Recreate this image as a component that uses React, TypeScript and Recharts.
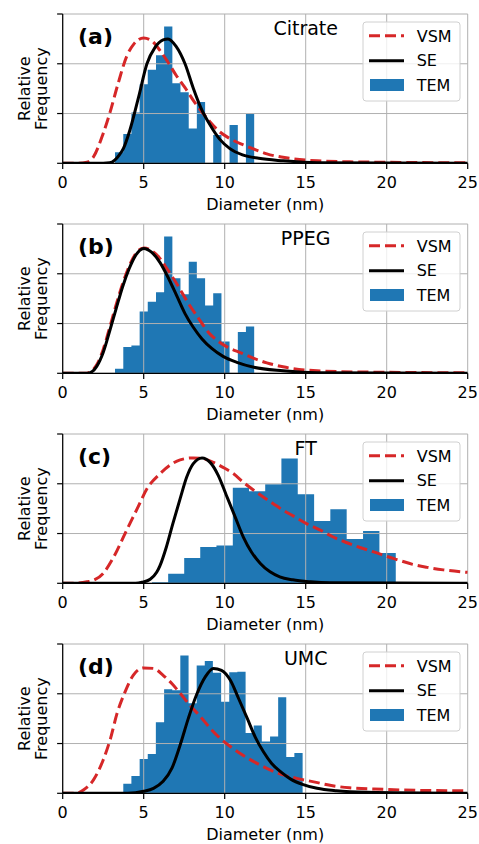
import React from 'react';
import { Area, CartesianGrid, ComposedChart, Line, XAxis, YAxis } from 'recharts';

// TEM histograms: bin edges (nm) and bin heights
const temEdgesA = [3.23, 3.74, 4.24, 4.75, 5.25, 5.76, 6.26, 6.77, 7.27, 7.78, 8.28, 8.79, 9.29, 9.8, 10.3, 10.81, 11.31, 11.82];
const temA = [0.22, 0.59, 1.02, 1.59, 1.88, 2.17, 2.75, 1.61, 1.43, 0.7, 1.23, 0, 0.57, 0, 0.77, 0, 0.99];

const temEdgesB = [3.23, 3.74, 4.24, 4.75, 5.25, 5.76, 6.26, 6.77, 7.27, 7.78, 8.28, 8.79, 9.29, 9.8, 10.3, 10.81, 11.31, 11.82];
const temB = [0.09, 0.53, 0.56, 1.24, 1.44, 1.63, 2.75, 1.91, 1.59, 2.24, 1.91, 1.36, 1.61, 0.64, 0, 0.83, 0.94];

const temEdgesC = [5.51, 6.51, 7.5, 8.49, 9.49, 10.5, 11.5, 12.5, 13.5, 14.51, 15.52, 16.52, 17.53, 18.54, 19.55, 20.56];
const temC = [0.02, 0.19, 0.51, 0.73, 0.76, 1.92, 1.85, 1.99, 2.51, 1.79, 1.25, 1.49, 0.89, 1.05, 0.61];

const temEdgesD = [3.74, 4.24, 4.75, 5.25, 5.75, 6.26, 6.76, 7.26, 7.77, 8.27, 8.77, 9.27, 9.78, 10.28, 10.78, 11.29, 11.79, 12.29, 12.8, 13.3, 13.8, 14.3, 14.81];
const temD = [0.19, 0.35, 0.69, 0.79, 1.43, 2.09, 2.07, 2.77, 1.81, 2.57, 2.66, 2.42, 1.84, 2.43, 2.44, 1.21, 1.36, 1.04, 1.14, 1.93, 0.73, 0.81];

// VSM and SE size distributions, [diameter, relative frequency]
const vsmA: [number, number][] = [
  [0, 0], [1.0, 0], [1.5, 0.02], [1.9, 0.13], [2.5, 0.6], [2.9, 1.0], [3.4, 1.58], [3.95, 2.15], [4.4, 2.4],
  [5.0, 2.52], [5.5, 2.46], [6.0, 2.27], [6.5, 2.03], [7.0, 1.77], [7.55, 1.52], [8.05, 1.27], [8.6, 1.03],
  [9.1, 0.83], [9.7, 0.63], [10.3, 0.5], [11.15, 0.37], [12.0, 0.26], [12.6, 0.19], [13.6, 0.12], [15.7, 0.05],
  [17.7, 0.03], [20, 0.02], [25, 0.01],
];
const seA: [number, number][] = [
  [0, 0], [2.5, 0], [2.9, 0.01], [3.5, 0.17], [3.75, 0.3], [4.15, 0.67], [4.7, 1.35], [5.2, 2.0], [5.7, 2.33],
  [6.2, 2.48], [6.5, 2.5], [7.0, 2.35], [7.55, 2.0], [8.05, 1.52], [8.55, 1.1], [9.1, 0.77], [9.7, 0.48],
  [10.3, 0.3], [11.1, 0.17], [12.1, 0.1], [13.6, 0.05], [15.7, 0.01], [25, 0],
];

const vsmB: [number, number][] = [
  [0, 0], [1.4, 0], [1.75, 0.04], [2.1, 0.17], [2.5, 0.48], [2.9, 0.92], [3.3, 1.38], [3.7, 1.8], [4.1, 2.15],
  [4.5, 2.4], [5.0, 2.52], [5.5, 2.46], [6.0, 2.31], [6.4, 2.12], [7.0, 1.82], [7.75, 1.41], [8.5, 1.05],
  [9.0, 0.82], [9.5, 0.67], [10.2, 0.52], [11.0, 0.41], [11.8, 0.3], [12.6, 0.21], [13.6, 0.13], [15.7, 0.05],
  [19.8, 0.02], [25, 0.01],
];
const seB: [number, number][] = [
  [0, 0], [1.5, 0], [1.8, 0.03], [2.1, 0.14], [2.5, 0.42], [2.9, 0.85], [3.3, 1.3], [3.7, 1.74], [4.1, 2.1],
  [4.5, 2.37], [5.0, 2.51], [5.5, 2.43], [6.0, 2.23], [6.5, 1.93], [7.05, 1.55], [7.55, 1.2], [8.05, 0.93],
  [8.6, 0.69], [9.2, 0.5], [9.9, 0.34], [10.75, 0.22], [11.8, 0.12], [13.6, 0.05], [15.7, 0.01], [25, 0],
];

const vsmC: [number, number][] = [
  [0, 0], [0.5, 0], [1.5, 0.03], [1.9, 0.06], [2.5, 0.2], [3.1, 0.5], [3.95, 1.07], [4.6, 1.5], [5.2, 1.9],
  [6.0, 2.2], [6.6, 2.37], [7.25, 2.48], [8.05, 2.52], [8.7, 2.5], [9.3, 2.43], [9.9, 2.33], [10.55, 2.2],
  [11.15, 2.03], [11.75, 1.88], [12.4, 1.73], [13.0, 1.6], [13.6, 1.47], [14.25, 1.35], [15.05, 1.2],
  [15.9, 1.07], [16.7, 0.93], [17.5, 0.82], [18.35, 0.72], [19.2, 0.63], [20.0, 0.54], [20.8, 0.46],
  [21.6, 0.38], [22.5, 0.32], [23.5, 0.27], [25, 0.22],
];
const seC: [number, number][] = [
  [0, 0], [4.5, 0], [4.9, 0.02], [5.4, 0.08], [5.8, 0.22], [6.0, 0.35], [6.4, 0.73], [6.8, 1.2], [7.25, 1.7],
  [7.65, 2.13], [8.05, 2.4], [8.6, 2.52], [9.1, 2.43], [9.6, 2.17], [10.1, 1.77], [10.65, 1.33], [11.15, 0.93],
  [11.65, 0.63], [12.2, 0.4], [12.8, 0.23], [13.4, 0.13], [14.2, 0.07], [15.3, 0.03], [16.5, 0.01], [25, 0],
];

const vsmD: [number, number][] = [
  [0, 0], [0.8, 0], [1.3, 0.07], [1.9, 0.27], [2.5, 0.67], [2.95, 1.1], [3.35, 1.6], [3.8, 2.0], [4.35, 2.37],
  [5.0, 2.52], [5.6, 2.51], [6.2, 2.37], [6.75, 2.2], [7.25, 2.01], [7.85, 1.77], [8.5, 1.54], [9.1, 1.31],
  [9.7, 1.11], [10.35, 0.94], [11.15, 0.76], [12.0, 0.6], [12.8, 0.47], [13.6, 0.37], [14.45, 0.3],
  [15.5, 0.23], [16.5, 0.16], [17.7, 0.11], [19.8, 0.08], [21.8, 0.06], [25, 0.05],
];
const seD: [number, number][] = [
  [0, 0], [4.0, 0], [5.0, 0.04], [5.6, 0.1], [6.2, 0.24], [6.75, 0.51], [7.25, 0.97], [7.75, 1.5], [8.25, 1.97],
  [8.8, 2.34], [9.3, 2.51], [9.8, 2.47], [10.35, 2.27], [10.85, 1.91], [11.4, 1.5], [11.9, 1.12], [12.4, 0.83],
  [12.9, 0.6], [13.5, 0.42], [14.1, 0.28], [14.8, 0.18], [15.7, 0.1], [16.9, 0.05], [18.8, 0.02], [25, 0],
];

const xTicks = [0, 5, 10, 15, 20, 25];
const yTicks = [0, 1, 2, 3];
const legendLabels = ['VSM', 'SE', 'TEM'];

const BLUE = '#1f77b4';
const RED = '#d62728';
const W = 479;
const H = 210;
const margin = { top: 14, right: 11.3, bottom: 16.7, left: 52.7 };
const axisStyle = { stroke: '#000', strokeWidth: 1.2 };

type PanelProps = {
  tag: string;
  name: string;
  edges: number[];
  heights: number[];
  vsm: [number, number][];
  se: [number, number][];
};

const Panel = ({ tag, name, edges, heights, vsm, se }: PanelProps) => {
  const hist = edges.map((x, i) => ({ x, y: i < heights.length ? heights[i] : 0 }));
  const vsmData = vsm.map(([x, y]) => ({ x, y }));
  const seData = se.map(([x, y]) => ({ x, y }));
  const midY = (margin.top + (H - margin.bottom - 30)) / 2;

  return (
    <div style={{ position: 'relative', width: W, height: H }}>
      <ComposedChart width={W} height={H} margin={margin}>
        <Area
          data={hist}
          dataKey="y"
          type="stepAfter"
          fill={BLUE}
          fillOpacity={1}
          stroke="none"
          isAnimationActive={false}
          dot={false}
          activeDot={false}
        />
        <CartesianGrid stroke="#b0b0b0" strokeWidth={1} zIndex={150} />
        <XAxis
          dataKey="x"
          type="number"
          domain={[0, 25]}
          ticks={xTicks}
          interval={0}
          allowDataOverflow
          height={30}
          tickSize={5.6}
          tickMargin={7.5}
          axisLine={axisStyle}
          tickLine={axisStyle}
          tick={{ fill: '#000', fontSize: 16 }}
        />
        <XAxis xAxisId="top" orientation="top" type="number" domain={[0, 25]} height={0} tick={false} tickLine={false} axisLine={axisStyle} />
        <YAxis
          type="number"
          domain={[0, 3]}
          ticks={yTicks}
          interval={0}
          allowDataOverflow
          width={10}
          tickSize={5.6}
          tickFormatter={() => ''}
          axisLine={axisStyle}
          tickLine={axisStyle}
        />
        <YAxis yAxisId="right" orientation="right" type="number" domain={[0, 3]} width={0} tick={false} tickLine={false} axisLine={axisStyle} />
        <Line data={vsmData} dataKey="y" type="monotone" stroke={RED} strokeWidth={3} strokeDasharray="11 5" dot={false} activeDot={false} isAnimationActive={false} />
        <Line data={seData} dataKey="y" type="monotone" stroke="#000" strokeWidth={3} dot={false} activeDot={false} isAnimationActive={false} />
      </ComposedChart>
      <svg width={W} height={H} style={{ position: 'absolute', left: 0, top: 0, overflow: 'visible', pointerEvents: 'none' }}>
        <text x={78} y={43.5} fontSize={22} fontWeight="bold">{tag}</text>
        <text x={305.7} y={34.7} fontSize={19} textAnchor="middle">{name}</text>
        <rect x={363} y={22} width={97} height={79} rx={3} fill="rgba(255,255,255,0.8)" stroke="#d0d0d0" />
        <line x1={369} x2={404} y1={35.7} y2={35.7} stroke={RED} strokeWidth={3} strokeDasharray="11 5" />
        <line x1={369} x2={404} y1={60.7} y2={60.7} stroke="#000" strokeWidth={3} />
        <rect x={370} y={79} width={34} height={12} fill={BLUE} />
        {legendLabels.map((l, i) => (
          <text key={l} x={416.7} y={41.5 + i * 24.5} fontSize={16}>{l}</text>
        ))}
        <text x={265.2} y={209.5} fontSize={16} textAnchor="middle">Diameter (nm)</text>
        <text x={-midY} y={30} fontSize={16} textAnchor="middle" transform="rotate(-90)">Relative</text>
        <text x={-midY} y={46.5} fontSize={16} textAnchor="middle" transform="rotate(-90)">Frequency</text>
      </svg>
    </div>
  );
};

const App = () => {
  return (
    <div style={{ position: 'absolute', left: 0, top: 0, width: W, fontFamily: '"DejaVu Sans", sans-serif', background: '#fff' }}>
      <Panel tag="(a)" name="Citrate" edges={temEdgesA} heights={temA} vsm={vsmA} se={seA} />
      <Panel tag="(b)" name="PPEG" edges={temEdgesB} heights={temB} vsm={vsmB} se={seB} />
      <Panel tag="(c)" name="FT" edges={temEdgesC} heights={temC} vsm={vsmC} se={seC} />
      <Panel tag="(d)" name="UMC" edges={temEdgesD} heights={temD} vsm={vsmD} se={seD} />
    </div>
  );
};

export default App;
